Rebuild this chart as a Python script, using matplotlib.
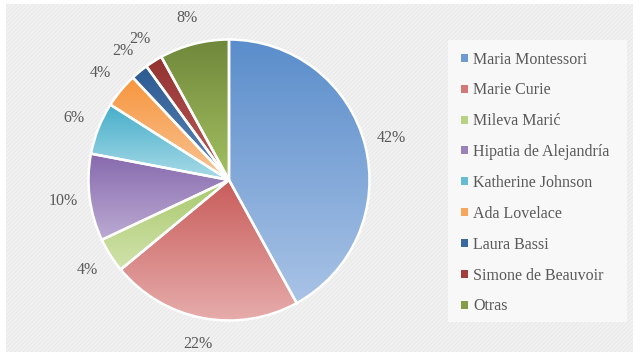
import numpy as np
import matplotlib
matplotlib.use("Agg")
import matplotlib.pyplot as plt
from matplotlib.patches import Rectangle, Patch
from matplotlib.colors import LinearSegmentedColormap

categories = ["Maria Montessori", "Marie Curie", "Mileva Marić", "Hipatia de Alejandría",
              "Katherine Johnson", "Ada Lovelace", "Laura Bassi", "Simone de Beauvoir", "Otras"]
values = [42, 22, 4, 10, 6, 4, 2, 2, 8]
top_colors = ["#5a8dcb", "#c85c5a", "#a8c86c", "#8669ad", "#45aec9", "#f7963e", "#2c5a91", "#933331", "#6f873a"]
bottom_colors = ["#a9c3e6", "#e6acab", "#d2e3ac", "#bcabd3", "#a9dbe8", "#f9c495", "#5f87b8", "#ba5d5b", "#a4c162"]
legend_colors = ["#6f9bd2", "#d27876", "#b6d283", "#9a82bb", "#64bcd2", "#f7a65d", "#3a68a0", "#a23e3c", "#839d48"]
text_color = "#595959"

plt.rcParams['font.family'] = ['Liberation Serif', 'DejaVu Serif']
plt.rcParams['hatch.linewidth'] = 0.4

fig = plt.figure(figsize=(6.4, 3.58), dpi=100)
fig.patch.set_facecolor("white")
bg = Rectangle((6/640, 6/358), 627/640, 348/358, transform=fig.transFigure,
               facecolor="#f1f1f1", edgecolor="#e4e4e4", hatch="////////", linewidth=0, zorder=-10)
fig.patches.append(bg)
leg_bg = Rectangle((448/640, (358-322)/358), 179/640, 282/358, transform=fig.transFigure,
                   facecolor="#f8f8f8", edgecolor="none", zorder=-9)
fig.patches.append(leg_bg)

cx, cy, r = 229, 180, 140.5
ax = fig.add_axes([(cx - r)/640, (358 - cy - r)/358, 2*r/640, 2*r/358])
ax.set_facecolor("none")
wedges, texts, autotexts = ax.pie(values, startangle=90, counterclock=False,
                                  autopct='%1.0f%%', pctdistance=1.19,
                                  wedgeprops=dict(edgecolor="white", linewidth=1.8),
                                  textprops=dict(color=text_color, fontsize=11.5))
for w, tc, bc in zip(wedges, top_colors, bottom_colors):
    path = w.get_path()
    ext = path.get_extents()
    cmap = LinearSegmentedColormap.from_list("g", [bc, tc])
    grad = np.linspace(0, 1, 256).reshape(-1, 1)
    im = ax.imshow(grad, cmap=cmap, origin="lower", aspect="auto",
                   extent=[ext.x0, ext.x1, ext.y0, ext.y1], zorder=w.get_zorder() - 0.1,
                   interpolation="bilinear")
    im.set_clip_path(w)
    w.set_facecolor("none")
ax.set_xlim(-1, 1)
ax.set_ylim(-1, 1)
ax.set_aspect("auto")
ax.axis("off")

handles = [Patch(facecolor=c, edgecolor="none") for c in legend_colors]
leg = fig.legend(handles, categories, loc="center left", bbox_to_anchor=(447/640, 1 - 183/358),
                 frameon=False, fontsize=11.5, handlelength=0.4, handleheight=0.4,
                 handletextpad=0.35, labelspacing=0.93, labelcolor=text_color)

fig.savefig("out.png", dpi=100)
